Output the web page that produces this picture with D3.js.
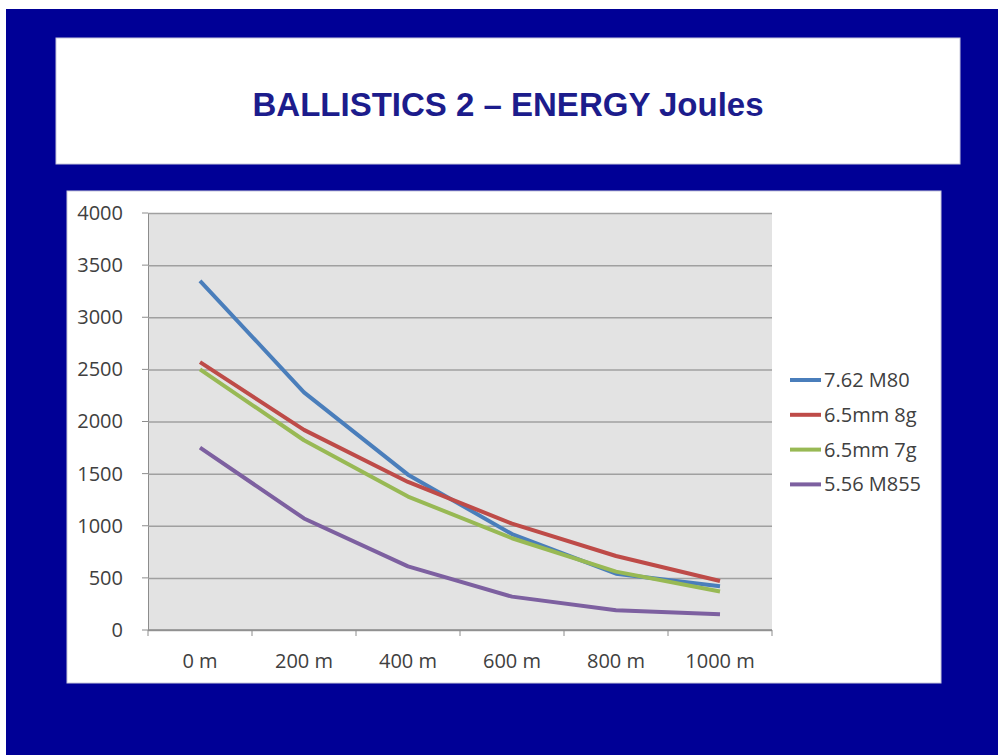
<!DOCTYPE html>
<html><head><meta charset="utf-8">
<script src="https://cdn.jsdelivr.net/npm/d3@7"></script>
<style>body{margin:0;background:#fff}svg{display:block}</style>
</head><body>
<script>
const title = "BALLISTICS 2 \u2013 ENERGY Joules";
const categories = ["0 m","200 m","400 m","600 m","800 m","1000 m"];
const seriesNames = ["7.62 M80","6.5mm 8g","6.5mm 7g","5.56 M855"];
const s762 = [3350, 2280, 1490, 920, 540, 420];
const s65_8 = [2570, 1920, 1420, 1020, 710, 470];
const s65_7 = [2500, 1820, 1280, 880, 560, 370];
const s556 = [1750, 1070, 610, 320, 190, 150];
const yTicks = [0,500,1000,1500,2000,2500,3000,3500,4000];
const colors = ["#4a7ebb","#be4b48","#98b954","#7d60a0"];
const allSeries = [s762, s65_8, s65_7, s556];

const W=998,H=755;
const svg=d3.select("body").append("svg").attr("width",W).attr("height",H);
svg.append("rect").attr("x",6).attr("y",9).attr("width",W-6).attr("height",H-9).attr("fill","#000096");
// title box
svg.append("rect").attr("x",56).attr("y",38).attr("width",904).attr("height",126).attr("fill","#fff")
  .attr("stroke","#c8c8dc").attr("stroke-width",1);
svg.append("text").attr("x",508).attr("y",116).attr("text-anchor","middle")
  .attr("font-family","Liberation Sans, Arial, sans-serif").attr("font-weight","bold")
  .attr("font-size",33).attr("fill","#1c1c8c").text(title);
// chart box
svg.append("rect").attr("x",67).attr("y",191).attr("width",874).attr("height",492).attr("fill","#fff")
  .attr("stroke","#c8c8dc").attr("stroke-width",1);

const x0=148,x1=772,y0=630,y1=213;
const x=d3.scaleBand().domain(categories).range([x0,x1]);
const y=d3.scaleLinear().domain([0,4000]).range([y0,y1]);
svg.append("rect").attr("x",x0).attr("y",y1).attr("width",x1-x0).attr("height",y0-y1).attr("fill","#e3e3e3");

const font="Open Sans, Lato, sans-serif";
const fs=20;
// y axis
const gy=svg.append("g").attr("transform",`translate(${x0},0)`)
  .call(d3.axisLeft(y).tickValues(yTicks).tickSize(-(x1-x0)).tickPadding(25).tickFormat(d3.format("d")));
gy.select(".domain").attr("stroke","#8c8c8c");
gy.selectAll(".tick line").attr("stroke","#a0a0a0").attr("stroke-width",1.5);
gy.selectAll(".tick text").attr("font-family",font).style("font-size",fs+"px").attr("fill","#404040");
svg.append("g").selectAll("line").data(yTicks).join("line")
  .attr("x1",x0-6).attr("x2",x0).attr("y1",d=>y(d)).attr("y2",d=>y(d)).attr("stroke","#8c8c8c");
// x axis
const gx=svg.append("g").attr("transform",`translate(0,${y0})`)
  .call(d3.axisBottom(x).tickSize(0).tickPadding(24));
gx.select(".domain").remove();
gx.selectAll(".tick text").attr("font-family",font).style("font-size",fs+"px").attr("fill","#404040");
const bounds=categories.map(c=>x(c)).concat([x1]);
svg.append("g").selectAll("line").data(bounds).join("line")
  .attr("x1",d=>d).attr("x2",d=>d).attr("y1",y0).attr("y2",y0+6).attr("stroke","#8c8c8c");
svg.append("line").attr("x1",x0).attr("x2",x1).attr("y1",y0).attr("y2",y0).attr("stroke","#8c8c8c").attr("stroke-width",1.5);

const line=d3.line().x((d,i)=>x(categories[i])+x.bandwidth()/2).y(d=>y(d));
svg.append("g").selectAll("path").data(allSeries).join("path")
  .attr("d",line).attr("fill","none").attr("stroke",(d,i)=>colors[i]).attr("stroke-width",4)
  .attr("stroke-linejoin","round");

// legend
const lg=svg.append("g").selectAll("g").data(seriesNames).join("g")
  .attr("transform",(d,i)=>`translate(790,${380+i*34.8})`);
lg.append("line").attr("x1",0).attr("x2",31).attr("stroke",(d,i)=>colors[i]).attr("stroke-width",4);
lg.append("text").attr("x",34).attr("dy","0.35em").attr("font-family",font).style("font-size",fs+"px")
  .attr("fill","#404040").text(d=>d);
</script>
</body></html>
